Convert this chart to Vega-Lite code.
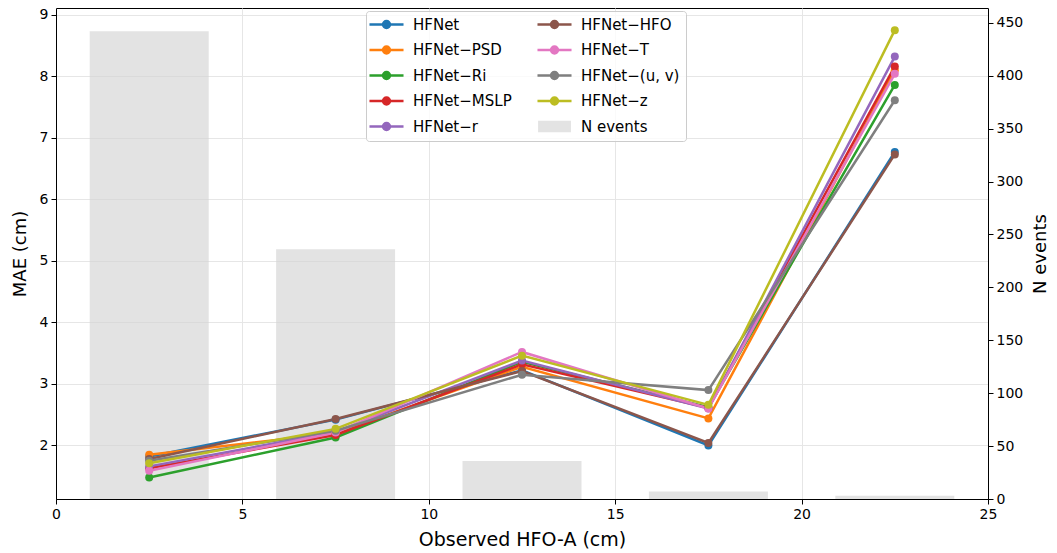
{
  "$schema": "https://vega.github.io/schema/vega-lite/v6.json",
  "width": 932,
  "height": 491,
  "autosize": {"type": "none"},
  "padding": {"left": 56, "top": 8, "right": 69, "bottom": 54},
  "background": "white",
  "config": {
    "view": {"stroke": "black", "strokeWidth": 1},
    "font": "DejaVu Sans",
    "axis": {
      "labelFont": "DejaVu Sans", "titleFont": "DejaVu Sans",
      "labelFontSize": 14, "titleFontSize": 18, "titleFontWeight": "normal",
      "labelColor": "black", "titleColor": "black",
      "tickColor": "black", "domainColor": "black",
      "tickSize": 5, "tickWidth": 1, "domainWidth": 1, "labelFlush": false,
      "gridColor": "#e6e6e6", "gridWidth": 1, "labelPadding": 3
    },
    "legend": {"labelFont": "DejaVu Sans"}
  },
  "datasets": {
    "series": [
      {"model": "HFNet", "x": 2.5, "mae": 1.82}, {"model": "HFNet", "x": 7.5, "mae": 2.42}, {"model": "HFNet", "x": 12.5, "mae": 3.22}, {"model": "HFNet", "x": 17.5, "mae": 2.00}, {"model": "HFNet", "x": 22.5, "mae": 6.77},
      {"model": "HFNet−PSD", "x": 2.5, "mae": 1.85}, {"model": "HFNet−PSD", "x": 7.5, "mae": 2.20}, {"model": "HFNet−PSD", "x": 12.5, "mae": 3.28}, {"model": "HFNet−PSD", "x": 17.5, "mae": 2.44}, {"model": "HFNet−PSD", "x": 22.5, "mae": 8.10},
      {"model": "HFNet−Ri", "x": 2.5, "mae": 1.48}, {"model": "HFNet−Ri", "x": 7.5, "mae": 2.13}, {"model": "HFNet−Ri", "x": 12.5, "mae": 3.36}, {"model": "HFNet−Ri", "x": 17.5, "mae": 2.62}, {"model": "HFNet−Ri", "x": 22.5, "mae": 7.86},
      {"model": "HFNet−MSLP", "x": 2.5, "mae": 1.63}, {"model": "HFNet−MSLP", "x": 7.5, "mae": 2.17}, {"model": "HFNet−MSLP", "x": 12.5, "mae": 3.32}, {"model": "HFNet−MSLP", "x": 17.5, "mae": 2.61}, {"model": "HFNet−MSLP", "x": 22.5, "mae": 8.16},
      {"model": "HFNet−r", "x": 2.5, "mae": 1.66}, {"model": "HFNet−r", "x": 7.5, "mae": 2.22}, {"model": "HFNet−r", "x": 12.5, "mae": 3.38}, {"model": "HFNet−r", "x": 17.5, "mae": 2.60}, {"model": "HFNet−r", "x": 22.5, "mae": 8.32},
      {"model": "HFNet−HFO", "x": 2.5, "mae": 1.78}, {"model": "HFNet−HFO", "x": 7.5, "mae": 2.43}, {"model": "HFNet−HFO", "x": 12.5, "mae": 3.21}, {"model": "HFNet−HFO", "x": 17.5, "mae": 2.04}, {"model": "HFNet−HFO", "x": 22.5, "mae": 6.73},
      {"model": "HFNet−T", "x": 2.5, "mae": 1.59}, {"model": "HFNet−T", "x": 7.5, "mae": 2.21}, {"model": "HFNet−T", "x": 12.5, "mae": 3.52}, {"model": "HFNet−T", "x": 17.5, "mae": 2.60}, {"model": "HFNet−T", "x": 22.5, "mae": 8.04},
      {"model": "HFNet−(u, v)", "x": 2.5, "mae": 1.75}, {"model": "HFNet−(u, v)", "x": 7.5, "mae": 2.24}, {"model": "HFNet−(u, v)", "x": 12.5, "mae": 3.15}, {"model": "HFNet−(u, v)", "x": 17.5, "mae": 2.90}, {"model": "HFNet−(u, v)", "x": 22.5, "mae": 7.61},
      {"model": "HFNet−z", "x": 2.5, "mae": 1.71}, {"model": "HFNet−z", "x": 7.5, "mae": 2.27}, {"model": "HFNet−z", "x": 12.5, "mae": 3.46}, {"model": "HFNet−z", "x": 17.5, "mae": 2.66}, {"model": "HFNet−z", "x": 22.5, "mae": 8.75}
    ],
    "bars": [
      {"x": 2.5, "n": 442}, {"x": 7.5, "n": 236}, {"x": 12.5, "n": 36}, {"x": 17.5, "n": 7}, {"x": 22.5, "n": 3}
    ]
  },
  "layer": [
    {
      "data": {"name": "bars"},
      "mark": {"type": "bar", "width": 119, "opacity": 0.65},
      "encoding": {
        "x": {"field": "x", "type": "quantitative", "scale": {"domain": [0, 25], "nice": false, "zero": false, "padding": 0},
              "axis": {"values": [0, 5, 10, 15, 20, 25], "grid": true, "title": "Observed HFO-A (cm)", "titlePadding": 9, "titleFontSize": 19}},
        "y": {"field": "n", "type": "quantitative", "scale": {"domain": [0, 464], "nice": false},
              "axis": {"orient": "right", "grid": false, "values": [0, 50, 100, 150, 200, 250, 300, 350, 400, 450], "title": "N events", "titleAngle": 270, "titleBaseline": "top", "titlePadding": 9}},
        "color": {"datum": "N events"}
      }
    },
    {
      "data": {"name": "series"},
      "encoding": {
        "x": {"field": "x", "type": "quantitative"},
        "y": {"field": "mae", "type": "quantitative", "scale": {"domain": [1.13, 9.11], "nice": false, "zero": false},
              "axis": {"orient": "left", "grid": true, "values": [2, 3, 4, 5, 6, 7, 8, 9], "title": "MAE (cm)", "titlePadding": 10}},
        "color": {
          "field": "model", "type": "nominal",
          "scale": {
            "domain": ["HFNet", "HFNet−PSD", "HFNet−Ri", "HFNet−MSLP", "HFNet−r", "HFNet−HFO", "HFNet−T", "HFNet−(u, v)", "HFNet−z", "N events"],
            "range": ["#1f77b4", "#ff7f0e", "#2ca02c", "#d62728", "#9467bd", "#8c564b", "#e377c2", "#7f7f7f", "#bcbd22", "#d4d4d4"]
          },
          "legend": {
            "title": null, "orient": "none", "legendX": 310, "legendY": 3,
            "columns": 2, "symbolSize": 529, "symbolOffset": 7, "labelFontSize": 15, "labelOffset": 19,
            "columnPadding": 20, "rowPadding": 8.5, "padding": 6,
            "strokeColor": "#cccccc", "fillColor": "rgba(255,255,255,0.8)", "cornerRadius": 3,
            "encode": {
              "symbols": {
                "update": {
                  "shape": {"signal": "datum.value === 'N events' ? 'M-1.43,-0.51H1.43V0.51H-1.43Z' : 'M-1.48,0H1.48M-0.3,0A0.3,0.3,0,1,1,0.3,0A0.3,0.3,0,1,1,-0.3,0Z'"},
                  "fill": {"scale": "color", "field": "value"},
                  "stroke": {"scale": "color", "field": "value"},
                  "strokeWidth": {"signal": "datum.value === 'N events' ? 0 : 2.5"},
                  "opacity": {"signal": "datum.value === 'N events' ? 0.65 : 1"}
                }
              }
            }
          }
        }
      },
      "layer": [
        {"mark": {"type": "line", "strokeWidth": 2.5}},
        {"mark": {"type": "point", "filled": true, "size": 64, "opacity": 1}}
      ]
    }
  ],
  "resolve": {"scale": {"y": "independent"}}
}
